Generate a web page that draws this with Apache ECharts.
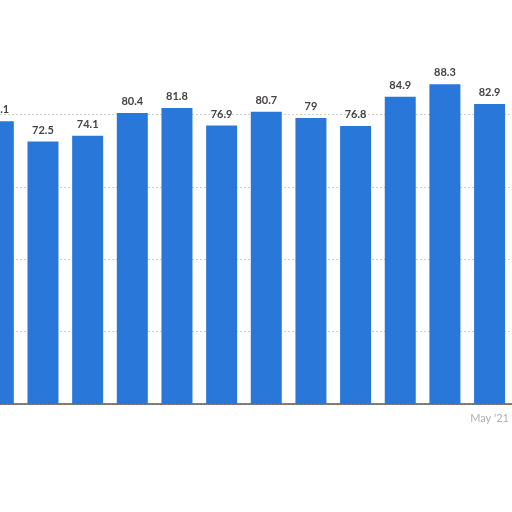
<!DOCTYPE html>
<html>
<head>
<meta charset="utf-8">
<script src="https://cdn.jsdelivr.net/npm/echarts@6/dist/echarts.min.js"></script>
<style>html,body{margin:0;padding:0;background:#fff;overflow:hidden;width:512px;height:512px}#c{position:absolute;left:-24px;top:0;width:536px;height:512px}</style>
</head>
<body>
<div id="c"></div>
<script>
var categories = ["Jun '20","Jul '20","Aug '20","Sep '20","Oct '20","Nov '20","Dec '20","Jan '21","Feb '21","Mar '21","Apr '21","May '21"];
var values = [78.1, 72.5, 74.1, 80.4, 81.8, 76.9, 80.7, 79, 76.8, 84.9, 88.3, 82.9];
var yTicks = {min: 0, max: 100, interval: 20};

var chart = echarts.init(document.getElementById('c'), null, {renderer: 'canvas'});
chart.setOption({
  animation: false,
  grid: {left: 0, right: 0, top: 42, bottom: 108, containLabel: false},
  xAxis: {
    type: 'category',
    data: categories,
    axisLine: {show: true, lineStyle: {color: '#555', width: 1.5}},
    axisTick: {show: false},
    axisLabel: {
      color: '#b0b0b0', fontSize: 11, fontFamily: 'Lato, sans-serif', margin: 9,
      interval: function (i) { return i === categories.length - 1; }
    }
  },
  yAxis: {
    type: 'value',
    min: yTicks.min, max: yTicks.max, interval: yTicks.interval,
    axisLine: {show: false},
    axisTick: {show: false},
    axisLabel: {show: false},
    splitLine: {show: true, showMaxLine: false, lineStyle: {color: '#cfcfcf', type: [2, 2], width: 1}}
  },
  series: [{
    type: 'bar',
    data: values,
    barWidth: 31,
    itemStyle: {color: '#2a77da'},
    label: {
      show: true, position: 'top', distance: 6,
      color: '#444', fontSize: 11, fontWeight: 'bold', fontFamily: 'Lato, sans-serif'
    }
  }]
});
</script>
</body>
</html>
